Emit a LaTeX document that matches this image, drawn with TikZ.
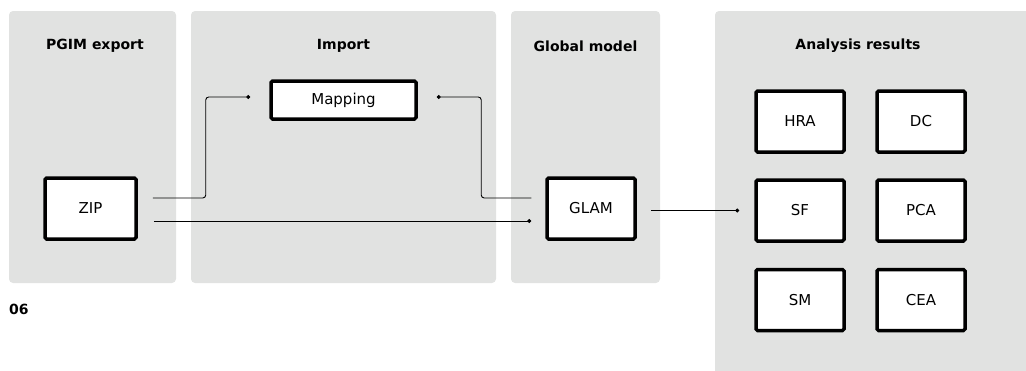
\documentclass[tikz,border=0pt]{standalone}
\usepackage{fontspec}
\setmainfont{DejaVu Sans}
\usetikzlibrary{arrows.meta,calc}
\definecolor{panelgray}{RGB}{225,226,225}
\tikzset{
  panel/.style={fill=panelgray, draw=none, rounded corners=4pt},
  title/.style={font=\bfseries\fontsize{14}{16}\selectfont, anchor=center},
  box/.style={draw=black, line width=3.5pt, rounded corners=1.5pt, fill=white, inner sep=0pt, font=\fontsize{15}{17}\selectfont},
  conn/.style={line width=0.9pt, rounded corners=3pt},
  dotend/.style={-{Circle[length=4pt]}}
}
\begin{document}
\begin{tikzpicture}[x=1pt,y=-1pt]
\useasboundingbox (0,0) rectangle (1026,370);
% panels
\fill[panel] (9,11) rectangle (176,283);
\fill[panel] (191,11) rectangle (496,283);
\fill[panel] (511,11) rectangle (660,283);
\fill[panel] (715,11) rectangle (1040,380);
% titles
\node[title] (t1) at (95,46) {PGIM export};
\node[title] (t2) at (343.5,46) {Import};
\node[title] (t3) at (585.5,46) {Global model};
\node[title] (t4) at (858,46) {Analysis results};
\node[font=\bfseries\fontsize{14}{16}\selectfont, anchor=west, inner sep=0pt] (num) at (9,309) {06};
% boxes
\node[box, minimum width=91pt, minimum height=61pt] (zip) at (90.5,208.5) {ZIP};
\node[box, minimum width=145pt, minimum height=38pt] (map) at (343.5,100) {Mapping};
\node[box, minimum width=88pt, minimum height=61pt] (glam) at (591,208.5) {GLAM};
\node[box, minimum width=88pt, minimum height=61pt] (hra) at (800,121.5) {HRA};
\node[box, minimum width=88pt, minimum height=61pt] (dc) at (921,121.5) {DC};
\node[box, minimum width=88pt, minimum height=61pt] (sf) at (800,210.5) {SF};
\node[box, minimum width=88pt, minimum height=61pt] (pca) at (921,210.5) {PCA};
\node[box, minimum width=88pt, minimum height=61pt] (sm) at (800,300) {SM};
\node[box, minimum width=88pt, minimum height=61pt] (cea) at (921,300) {CEA};
% connectors
\coordinate (g1) at ($(glam.east)+(14,0)$);
\draw[conn, dotend] ($(zip.east)+(15,-10.5)$) -| ($(zip.east)+(68,-111.5)$) -- ($(map.west)+(-19,-3)$);
\draw[conn, dotend] ($(glam.west)+(-14,-10.5)$) -| ($(glam.west)+(-64,-111.5)$) -- ($(map.east)+(19,-3)$);
\draw[conn, dotend] ($(zip.east)+(16,12.5)$) -- ($(glam.west)+(-14,12.5)$);
\draw[conn, dotend] (g1 |- sf.west) -- ($(sf.west)+(-15,0)$);
\end{tikzpicture}
\end{document}
